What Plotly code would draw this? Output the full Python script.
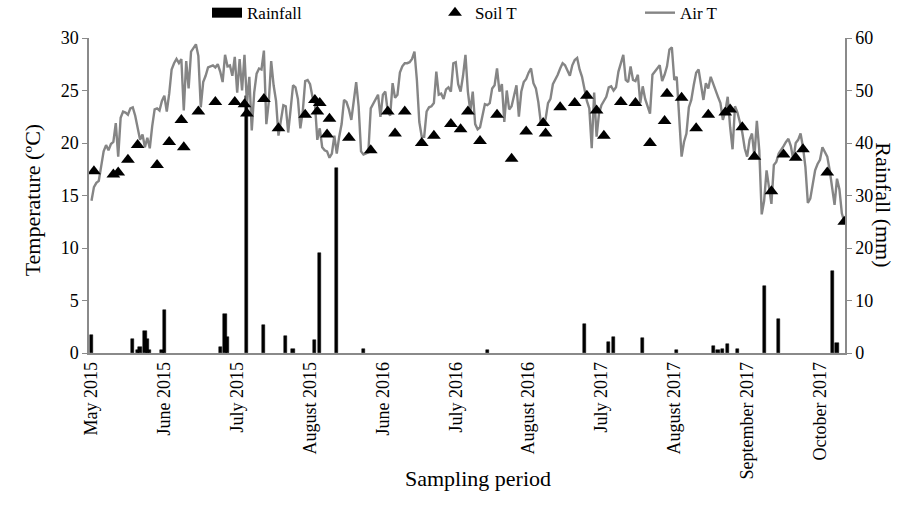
import plotly.graph_objects as go

tick_labels = ["May 2015", "June 2015", "July 2015", "August 2015", "June 2016",
               "July 2016", "August 2016", "July 2017", "August 2017",
               "September 2017", "October 2017"]
tick_pos = [0, 30, 60, 90, 120, 150, 180, 210, 240, 270, 300]

air_t = [
    14.5, 15.8, 16.2, 16.4, 17.8, 19.2, 19.8, 19.3, 19.9, 20.1,
    21.9, 18.7, 22.4, 23.0, 22.9, 22.7, 23.3, 23.4, 22.6, 21.5,
    20.3, 20.8, 19.6, 20.5, 19.5, 21.6, 23.2, 23.3, 23.1, 24.0,
    24.5, 23.0, 24.7, 27.0, 27.6, 28.0, 27.6, 28.0, 23.1, 27.8,
    25.2, 28.7, 29.0, 29.4, 28.3, 23.4, 25.8, 26.4, 27.2, 27.3,
    27.4, 27.2, 27.5, 26.8, 25.8, 28.4, 27.3, 27.4, 26.4, 28.2,
    24.8, 28.0, 25.0, 28.4, 23.8, 26.3, 21.2, 24.8, 26.6, 27.1,
    27.0, 28.8, 21.8, 23.9, 27.8, 25.5, 24.0, 20.7, 22.0, 23.6,
    23.5, 21.0, 23.2, 25.5, 25.3, 24.2, 21.4, 23.0, 25.9, 26.0,
    25.6, 24.4, 23.8, 20.3, 21.4, 19.6, 19.3, 19.2, 18.6, 19.0,
    20.7, 19.0, 20.6, 21.8, 24.1, 23.9, 23.2, 22.2, 24.0, 25.8,
    23.5, 19.2, 18.9, 19.0, 19.1, 23.3, 23.7, 24.2, 24.6, 22.5,
    24.6, 24.9, 23.0, 22.6, 25.7, 24.3, 24.6, 26.7, 27.3, 27.6,
    27.6, 27.7, 28.0, 28.7, 26.0, 22.0, 20.6, 20.6, 23.0, 23.4,
    23.5, 23.8, 26.8, 24.6, 24.7, 24.2, 25.1, 25.3, 24.9, 27.6,
    27.7, 25.6, 24.9, 26.4, 28.4, 24.9, 23.0, 24.9, 21.8, 21.3,
    21.5, 22.6, 23.7, 23.6, 23.8, 25.2, 25.5, 27.1, 24.9, 25.6,
    22.0, 25.0, 23.2, 23.5, 24.6, 25.5, 22.5, 24.9, 25.8, 26.1,
    26.7, 27.1, 25.7, 25.2, 23.9, 22.0, 21.7, 22.3, 23.8, 24.2,
    25.6, 26.0, 26.5, 27.1, 27.6, 27.4, 26.9, 26.4, 27.4, 27.9,
    28.1, 27.0, 26.3, 25.2, 24.0, 23.3, 19.5, 24.8, 20.6, 22.8,
    23.6, 24.0, 24.4, 25.3, 25.4, 25.0, 25.3, 26.8, 27.5, 28.4,
    26.0, 25.8, 27.3, 26.0, 25.9, 26.5, 23.8, 25.4, 24.2, 23.4,
    22.8, 26.5, 26.8, 27.0, 27.4, 25.9, 26.5, 27.3, 28.9, 29.1,
    26.0, 26.3, 23.0, 18.7, 20.1, 20.9, 23.4, 24.1, 25.5, 26.7,
    27.0, 25.5, 24.1, 25.7, 25.2, 26.3, 25.6, 25.0, 24.4, 23.8,
    22.2, 23.0, 24.4, 21.5, 19.4, 23.5, 22.9, 22.0, 21.0, 19.5,
    18.7, 20.3, 20.9, 18.7, 22.1, 19.3, 13.2, 14.5, 17.4, 15.8,
    14.2, 17.9, 18.2, 19.0, 19.3, 19.7, 20.1, 20.4, 19.7, 18.4,
    20.0, 20.3, 20.9, 19.6, 17.7, 14.3, 14.7, 16.0, 17.4, 18.0,
    18.4, 19.6, 19.2, 18.7, 17.4, 15.8, 14.1, 16.6, 15.6, 13.3, 12.5,
]
air_idx = list(range(len(air_t)))

soil_idx = [1, 9, 11, 15, 19, 27, 32, 37, 38, 44, 51, 59, 63, 64, 71, 77,
            88, 92, 93, 94, 97, 98, 106, 115, 122, 125, 129, 136, 141, 148,
            152, 155, 160, 167, 173, 179, 186, 187, 193, 199, 204, 208, 211,
            218, 224, 230, 236, 237, 243, 249, 254, 261, 263, 268, 273, 280,
            285, 290, 293, 303, 310]
soil_t = [17.3, 17.0, 17.2, 18.4, 19.8, 17.9, 20.1, 22.2, 19.6, 23.0, 23.9,
          23.9, 23.7, 22.8, 24.2, 21.4, 22.7, 24.1, 23.0, 23.8, 20.8, 22.3,
          20.5, 19.3, 23.0, 20.9, 23.0, 20.0, 20.7, 21.8, 21.3, 23.0, 20.2,
          22.7, 18.5, 21.1, 21.9, 20.9, 23.4, 23.8, 24.5, 23.1, 20.7, 23.9,
          23.8, 20.0, 22.1, 24.7, 24.3, 21.4, 22.7, 22.9, 23.2, 21.5, 18.7,
          15.4, 18.9, 18.6, 19.4, 17.2, 12.5]

rain_idx = [0, 17, 19, 20, 22, 23, 24, 29, 30, 53, 55, 56, 64, 71, 80, 83,
            92, 94, 101, 112, 163, 203, 213, 215, 227, 241, 256, 258, 260,
            262, 266, 277, 283, 305, 307]
rain_mm = [3.4, 2.7, 0.6, 1.2, 4.2, 2.6, 0.6, 0.5, 8.2, 1.2, 7.5, 3.1, 49.0,
           5.4, 3.3, 0.8, 2.4, 19.0, 35.2, 0.7, 0.5, 5.6, 2.1, 3.0, 2.8, 0.6,
           1.3, 0.6, 0.8, 1.7, 0.8, 12.8, 6.4, 15.6, 2.0]

FONT = "Liberation Serif"
AXIS_GREY = "#8a8a8a"

fig = go.Figure()

# Rainfall bars (primary y: right side, 0-60 mm)
fig.add_trace(go.Bar(x=rain_idx, y=rain_mm, yaxis="y", width=1.3,
                     marker=dict(color="black", line=dict(color="black", width=0.5)),
                     showlegend=False, name="Rainfall"))
# legend stand-in for rainfall
fig.add_trace(go.Scatter(x=[None], y=[None], mode="lines", name="Rainfall",
                         line=dict(color="black", width=11), legend="legend",
                         yaxis="y"))
# Air temperature line
fig.add_trace(go.Scatter(x=air_idx, y=air_t, mode="lines", name="Air T",
                         line=dict(color="#858585", width=2.4), yaxis="y2",
                         legend="legend3"))
# Soil temperature triangles
fig.add_trace(go.Scatter(x=soil_idx, y=soil_t, mode="markers", name="Soil T",
                         marker=dict(symbol="triangle-up", color="black", size=12,
                                     line=dict(width=0)),
                         yaxis="y2", legend="legend2"))


def leg(xpx):
    return dict(orientation="h", yanchor="middle", y=1.079, xanchor="left",
                x=(xpx - 89) / 756, bgcolor="rgba(0,0,0,0)",
                font=dict(family=FONT, size=17, color="black"), itemwidth=30)


fig.update_layout(
    width=914, height=514,
    margin=dict(l=89, r=69, t=38, b=161, autoexpand=False),
    paper_bgcolor="white", plot_bgcolor="white",
    font=dict(family=FONT, size=18, color="black"),
    bargap=0,
    xaxis=dict(range=[-1.03, 310.3], tickmode="array", tickvals=tick_pos,
               ticktext=tick_labels, tickangle=-90, showgrid=False, zeroline=False,
               showline=True, linecolor=AXIS_GREY, linewidth=1.5, ticks="",
               automargin=False,
               tickfont=dict(family=FONT, size=18, color="black")),
    yaxis=dict(range=[0, 60], dtick=10, side="right", showgrid=False, zeroline=False,
               showline=True, linecolor=AXIS_GREY, linewidth=1.5, ticks="outside",
               ticklen=5, tickcolor=AXIS_GREY, automargin=False,
               tickfont=dict(family=FONT, size=18, color="black")),
    yaxis2=dict(range=[0, 30], dtick=5, side="left", overlaying="y", showgrid=False,
                zeroline=False, showline=True, linecolor=AXIS_GREY, linewidth=1.5,
                ticks="outside", ticklen=5, tickcolor=AXIS_GREY, automargin=False,
                tickfont=dict(family=FONT, size=18, color="black")),
    legend=leg(207),
    legend2=leg(435),
    legend3=leg(640),
    annotations=[
        dict(text="Temperature (ºC)", xref="paper", yref="paper", x=-0.094, y=0.486,
             textangle=-90, showarrow=False, font=dict(family=FONT, size=22, color="black")),
        dict(text="Rainfall (mm)", xref="paper", yref="paper", x=1.069, y=0.47,
             textangle=90, showarrow=False, font=dict(family=FONT, size=22, color="black")),
        dict(text="Sampling period", xref="paper", yref="paper", x=0.5146, y=-0.444,
             showarrow=False, font=dict(family=FONT, size=22, color="black")),
    ],
)

fig.write_html("out.html", config={"displayModeBar": False},
               post_script="document.body.style.margin='0';document.body.style.padding='0';")
